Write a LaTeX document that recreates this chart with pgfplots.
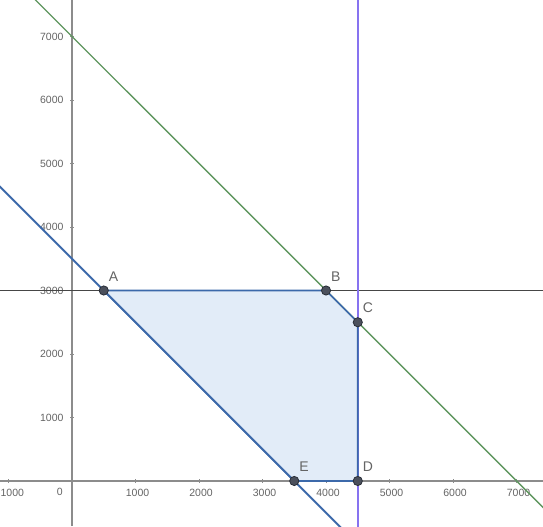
\documentclass[border=0pt]{standalone}
\usepackage{pgfplots}
\pgfplotsset{compat=1.18}
\usepackage{fontspec}
\setmainfont{Liberation Sans}
\definecolor{ggreen}{RGB}{95,150,95}
\definecolor{gblue}{RGB}{60,105,170}
\definecolor{lavline}{RGB}{135,115,240}
\definecolor{gdark}{RGB}{70,70,70}
\definecolor{fillblue}{RGB}{226,236,248}
\definecolor{axisgray}{RGB}{140,140,140}
\definecolor{labelgray}{RGB}{100,100,100}
\definecolor{ptfill}{RGB}{75,80,92}
\definecolor{ptdraw}{RGB}{40,45,55}
\begin{document}
\begin{tikzpicture}
\begin{axis}[
  scale only axis, width=543pt, height=526pt,
  xmin=-1134, xmax=7417, ymin=-709, ymax=7575,
  axis lines=middle,
  axis line style={draw=axisgray, line width=1.3pt, -},
  xtick={-1000,1000,2000,3000,4000,5000,6000,7000},
  ytick={1000,2000,3000,4000,5000,6000,7000},
  tick style={draw=axisgray, line width=0.8pt},
  major tick length=4pt,
  ticklabel style={font=\fontsize{10.5}{11}\selectfont, text=labelgray},
  /pgf/number format/assume math mode=true,
  /pgf/number format/1000 sep={},
  xticklabel style={anchor=north, yshift=-3pt, xshift=2pt},
  yticklabel style={anchor=east, xshift=-3pt},
  clip=true,
]
\addplot[fill=fillblue, draw=none] coordinates {(500,3000) (4000,3000) (4500,2500) (4500,0) (3500,0)} -- cycle;
\addplot[ggreen, line width=1.4pt] coordinates {(-700,7700) (7800,-800)};
\addplot[gblue, line width=2pt] coordinates {(-1200,4700) (4300,-800)};
\addplot[gdark, line width=1.2pt] coordinates {(-1200,3000) (7500,3000)};
\addplot[draw=lavline, line width=1.5pt] coordinates {(4500,-800) (4500,7700)};
\addplot[gblue, line width=1.6pt] coordinates {(500,3000) (4000,3000) (4500,2500) (4500,0) (3500,0)} -- cycle;
\addplot[only marks, mark=*, mark size=4.6pt, mark options={fill=ptfill, draw=ptdraw, line width=0.8pt}] coordinates {(500,3000) (4000,3000) (4500,2500) (4500,0) (3500,0)};
\node[anchor=south west, inner sep=0, text=labelgray, font=\fontsize{14}{14}\selectfont] at (axis cs:500,3000) [xshift=5pt, yshift=9pt] {A};
\node[anchor=south west, inner sep=0, text=labelgray, font=\fontsize{14}{14}\selectfont] at (axis cs:4000,3000) [xshift=5pt, yshift=9pt] {B};
\node[anchor=south west, inner sep=0, text=labelgray, font=\fontsize{14}{14}\selectfont] at (axis cs:4500,2500) [xshift=5pt, yshift=9pt] {C};
\node[anchor=south west, inner sep=0, text=labelgray, font=\fontsize{14}{14}\selectfont] at (axis cs:4500,0) [xshift=5pt, yshift=9pt] {D};
\node[anchor=south west, inner sep=0, text=labelgray, font=\fontsize{14}{14}\selectfont] at (axis cs:3500,0) [xshift=5pt, yshift=9pt] {E};
\node[anchor=north east, inner sep=0, text=labelgray, font=\fontsize{10.5}{11}\selectfont] at (axis cs:0,0) [xshift=-9pt, yshift=-7pt] {0};
\end{axis}
\pgfresetboundingbox
\path[use as bounding box] (current axis.south west) rectangle (current axis.north east);
\end{tikzpicture}
\end{document}
